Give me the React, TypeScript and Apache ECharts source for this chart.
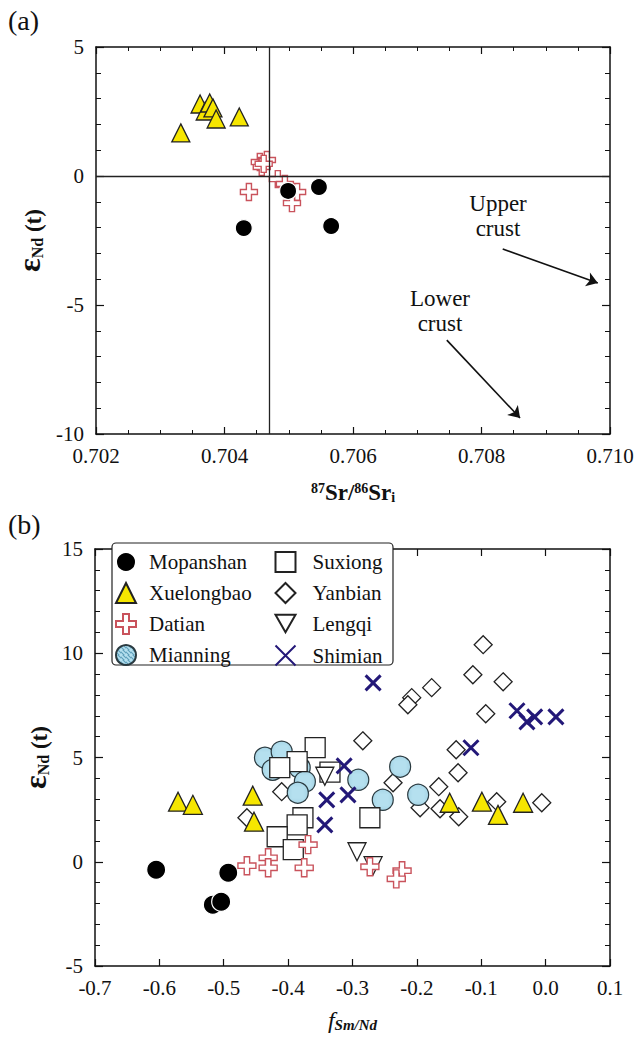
import React, { useEffect, useRef } from 'react';
import * as echarts from 'echarts';

const SERIF = "'Liberation Serif', 'DejaVu Serif', serif";

// ---------- Panel (a): 87Sr/86Sr_i vs eNd(t) ----------
const srRange = [0.702, 0.71];
const srInterval = 0.002;
const ndRangeA = [-10, 5];
const refSr = 0.7047;
const refNd = 0;

const aMopanshan = [
  [0.70499, -0.58], [0.70547, -0.43], [0.7043, -2.02], [0.70566, -1.94],
];
const aXuelongbao = [
  [0.70332, 1.67], [0.70362, 2.79], [0.7037, 2.52], [0.70377, 2.83],
  [0.70382, 2.64], [0.70387, 2.21], [0.70423, 2.29],
];
const aDatian = [
  [0.70455, 0.54], [0.70466, 0.62], [0.70458, 0.35], [0.70461, 0.47],
  [0.70483, -0.12], [0.70438, -0.62], [0.70513, -0.62], [0.70505, -1.05],
  [0.70494, -0.31],
];
const upperArrow = [[0.70833, -2.83], [0.70981, -4.15]];
const lowerArrow = [[0.70746, -6.36], [0.7086, -9.38]];

// ---------- Panel (b): fSm/Nd vs eNd(t) ----------
const fRange = [-0.7, 0.1];
const ndRangeB = [-5, 15];

const bMopanshan = [[-0.605, -0.38], [-0.493, -0.53], [-0.517, -2.06], [-0.504, -1.92]];
const bXuelongbao = [
  [-0.571, 2.88], [-0.548, 2.73], [-0.455, 3.17], [-0.453, 1.92],
  [-0.149, 2.83], [-0.099, 2.88], [-0.074, 2.25], [-0.035, 2.83],
];
const bDatian = [
  [-0.464, -0.19], [-0.431, 0.19], [-0.431, -0.29], [-0.375, -0.29],
  [-0.369, 0.82], [-0.273, -0.24], [-0.223, -0.43], [-0.232, -0.82],
];
const bMianning = [
  [-0.436, 4.99], [-0.41, 5.28], [-0.424, 4.41], [-0.382, 4.51], [-0.374, 3.84],
  [-0.385, 3.31], [-0.291, 3.93], [-0.226, 4.56], [-0.253, 2.97], [-0.198, 3.21],
];
const bSuxiong = [
  [-0.358, 5.47], [-0.386, 4.8], [-0.413, 4.51], [-0.377, 2.11], [-0.386, 1.77],
  [-0.417, 1.2], [-0.392, 0.58], [-0.273, 2.11], [-0.335, 4.3],
];
const bYanbian = [
  [-0.097, 10.41], [-0.113, 8.97], [-0.066, 8.63], [-0.177, 8.35], [-0.208, 7.87],
  [-0.214, 7.53], [-0.093, 7.1], [-0.284, 5.8], [-0.139, 5.37], [-0.136, 4.27],
  [-0.166, 3.6], [-0.237, 3.79], [-0.195, 2.59], [-0.164, 2.54], [-0.135, 2.16],
  [-0.076, 2.88], [-0.006, 2.83], [-0.41, 3.36], [-0.464, 2.11],
];
const bLengqi = [[-0.293, 0.48], [-0.268, -0.19], [-0.343, 4.1]];
const bShimian = [
  [-0.268, 8.58], [-0.313, 4.6], [-0.307, 3.21], [-0.34, 2.97], [-0.343, 1.77],
  [-0.0445, 7.24], [-0.029, 6.71], [-0.017, 6.95], [0.016, 6.95], [-0.116, 5.47],
];

const legendCol1 = ['Mopanshan', 'Xuelongbao', 'Datian', 'Mianning'];
const legendCol2 = ['Suxiong', 'Yanbian', 'Lengqi', 'Shimian'];

const PLUS = 'path://M3.5,0 H6.5 V3.5 H10 V6.5 H6.5 V10 H3.5 V6.5 H0 V3.5 H3.5 Z';
const CROSS = 'path://M0,0 L10,10 M10,0 L0,10';
const DOWN_TRI = 'path://M0,0 L10,0 L5,8.66 Z';

function makeHatch() {
  const c = document.createElement('canvas');
  c.width = 5; c.height = 5;
  const g = c.getContext('2d');
  if (g) {
    g.fillStyle = '#b5e0ef';
    g.fillRect(0, 0, 5, 5);
    g.strokeStyle = '#5f9fba';
    g.lineWidth = 1.2;
    g.beginPath();
    g.moveTo(-1, 1); g.lineTo(4, 6);
    g.moveTo(1, -1); g.lineTo(6, 4);
    g.stroke();
  }
  return { image: c.toDataURL(), repeat: 'repeat', imageWidth: 5, imageHeight: 5 };
}

function buildStyles(hatch: any): Record<string, any> {
  return {
    Mopanshan: { symbol: 'circle', itemStyle: { color: '#000', borderColor: '#fff', borderWidth: 1.2, opacity: 1 } },
    Xuelongbao: { symbol: 'triangle', itemStyle: { color: '#f6e600', borderColor: '#222', borderWidth: 1.3, opacity: 1 } },
    Datian: { symbol: PLUS, itemStyle: { color: '#fff', borderColor: '#c9535c', borderWidth: 1.4, opacity: 1 } },
    Mianning: { symbol: 'circle', itemStyle: { color: hatch, borderColor: '#2a3a40', borderWidth: 1.2, opacity: 1 } },
    Suxiong: { symbol: 'rect', itemStyle: { color: '#fff', borderColor: '#222', borderWidth: 1.3, opacity: 1 } },
    Yanbian: { symbol: 'diamond', itemStyle: { color: '#fff', borderColor: '#222', borderWidth: 1.3, opacity: 1 } },
    Lengqi: { symbol: DOWN_TRI, itemStyle: { color: '#fff', borderColor: '#222', borderWidth: 1.3, opacity: 1 } },
    Shimian: { symbol: CROSS, itemStyle: { color: 'none', borderColor: '#231878', borderWidth: 3, opacity: 1 } },
  };
}

const sizes: Record<string, number> = {
  Mopanshan: 19, Xuelongbao: 19, Datian: 18, Mianning: 21, Suxiong: 20,
  Yanbian: 18, Lengqi: 18, Shimian: 15,
};

const axisLine = { show: true, onZero: false, lineStyle: { color: '#111', width: 1.5 } };
const labelStyle = { fontFamily: SERIF, fontSize: 21, color: '#111' };

function xAx(gi: number, range: number[], interval: number, pos: string, labels: boolean, digits: number, minorSplit: number) {
  return {
    type: 'value', gridIndex: gi, min: range[0], max: range[1], interval, position: pos,
    axisLine, splitLine: { show: false },
    axisTick: { show: true, inside: true, length: 7, lineStyle: { color: '#111', width: 1.2 } },
    minorTick: { show: minorSplit > 1, splitNumber: minorSplit, length: 4, lineStyle: { color: '#111', width: 1 } },
    axisLabel: { show: labels, margin: 11, ...labelStyle, formatter: (v: number) => v.toFixed(digits) },
  };
}
function yAx(gi: number, range: number[], pos: string, labels: boolean) {
  return {
    type: 'value', gridIndex: gi, min: range[0], max: range[1], interval: 5, position: pos,
    axisLine, splitLine: { show: false },
    axisTick: { show: true, inside: true, length: 8, lineStyle: { color: '#111', width: 1.2 } },
    minorTick: { show: true, splitNumber: 5, length: 5, lineStyle: { color: '#111', width: 1 } },
    axisLabel: { show: labels, margin: 12, ...labelStyle, formatter: (v: number) => String(Math.round(v)) },
  };
}

const ndName = {
  name: '{e|ε}{s|Nd}{n| (t)}',
  nameLocation: 'middle', nameRotate: 90, nameGap: 16,
  nameTextStyle: {
    fontFamily: SERIF, color: '#111', fontWeight: 'bold',
    rich: {
      e: { fontFamily: SERIF, fontSize: 32, fontWeight: 'bold', color: '#111', verticalAlign: 'bottom' },
      s: { fontFamily: SERIF, fontSize: 16, fontWeight: 'bold', color: '#111', verticalAlign: 'bottom' },
      n: { fontFamily: SERIF, fontSize: 23, fontWeight: 'bold', color: '#111', verticalAlign: 'bottom' },
    },
  },
};

export default function App() {
  const ref = useRef<HTMLDivElement>(null);
  useEffect(() => {
    if (!ref.current) return;
    const chart = echarts.init(ref.current, null, { renderer: 'svg' });
    const styles = buildStyles(makeHatch());
    const sc = (name: string, data: number[][], xi: number, yi: number, z: number, size?: number) => ({
      type: 'scatter', name, data, xAxisIndex: xi, yAxisIndex: yi, z,
      symbolSize: size ?? sizes[name], ...styles[name],
    });
    const xA = xAx(0, srRange, srInterval, 'bottom', true, 3, 4);
    const xATop = xAx(0, srRange, srInterval, 'top', false, 3, 4);
    const xB = xAx(1, fRange, 0.1, 'bottom', true, 1, 1);
    const xBTop = xAx(1, fRange, 0.1, 'top', false, 1, 1);
    const legendBase = {
      orient: 'vertical', top: 551, padding: 0, itemGap: 9, itemWidth: 20, itemHeight: 20,
      selectedMode: false, z: 10,
    };
    const option: any = {
      animation: false,
      backgroundColor: '#fff',
      grid: [
        { left: 96, top: 47, width: 514, height: 387 },
        { left: 95, top: 549, width: 515, height: 417 },
      ],
      xAxis: [
        {
          ...xA,
          name: '{p|87}{b|Sr/}{p|86}{b|Sr}{i|i}', nameLocation: 'middle', nameGap: 47,
          nameTextStyle: {
            rich: {
              p: { fontFamily: SERIF, fontSize: 14, fontWeight: 'bold', color: '#111', verticalAlign: 'top' },
              b: { fontFamily: SERIF, fontSize: 23, fontWeight: 'bold', color: '#111', verticalAlign: 'middle' },
              i: { fontFamily: SERIF, fontSize: 14, fontWeight: 'bold', color: '#111', verticalAlign: 'bottom' },
            },
          },
        },
        xATop,
        {
          ...xB,
          name: '{f|f}{s|Sm/Nd}', nameLocation: 'middle', nameGap: 42,
          nameTextStyle: {
            rich: {
              f: { fontFamily: SERIF, fontSize: 24, fontStyle: 'italic', color: '#111', verticalAlign: 'middle' },
              s: { fontFamily: SERIF, fontSize: 15, fontStyle: 'italic', fontWeight: 'bold', color: '#111', verticalAlign: 'bottom' },
            },
          },
        },
        xBTop,
      ],
      yAxis: [
        { ...yAx(0, ndRangeA, 'left', true), ...ndName },
        yAx(0, ndRangeA, 'right', false),
        { ...yAx(1, ndRangeB, 'left', true), ...ndName },
        yAx(1, ndRangeB, 'right', false),
      ],
      legend: [
        {
          ...legendBase, data: legendCol1, left: 115,
          textStyle: { fontFamily: SERIF, fontSize: 21, color: '#111', padding: [0, 0, 0, 8] },
        },
        {
          ...legendBase, data: legendCol2, left: 273,
          textStyle: { fontFamily: SERIF, fontSize: 21, color: '#111', padding: [0, 0, 0, 12] },
        },
      ],
      graphic: [
        { type: 'text', left: 8, top: 6, style: { text: '(a)', font: `28px ${SERIF}`, fill: '#111' } },
        { type: 'text', left: 8, top: 510, style: { text: '(b)', font: `28px ${SERIF}`, fill: '#111' } },
        { type: 'text', x: 498, y: 216, style: { text: 'Upper\ncrust', font: `23px ${SERIF}`, fill: '#111', align: 'center', verticalAlign: 'middle', lineHeight: 25 }, z: 6 },
        { type: 'text', x: 440, y: 311, style: { text: 'Lower\ncrust', font: `23px ${SERIF}`, fill: '#111', align: 'center', verticalAlign: 'middle', lineHeight: 25 }, z: 6 },
        { type: 'rect', shape: { x: 112, y: 543, width: 281, height: 122, r: 4 }, style: { fill: '#fff', stroke: '#222', lineWidth: 1.2 }, z: 8 },
      ],
      series: [
        {
          type: 'scatter', name: 'refLines', data: [], xAxisIndex: 0, yAxisIndex: 0, z: 1,
          markLine: {
            silent: true, symbol: ['none', 'none'], label: { show: false },
            lineStyle: { color: '#222', width: 1.3, type: 'solid' },
            data: [
              [{ coord: [refSr, ndRangeA[0]] }, { coord: [refSr, ndRangeA[1]] }],
              [{ coord: [srRange[0], refNd] }, { coord: [srRange[1], refNd] }],
            ],
          },
        },
        {
          type: 'scatter', name: 'arrows', data: [], xAxisIndex: 0, yAxisIndex: 0, z: 1,
          markLine: {
            silent: true, symbol: ['none', 'arrow'], symbolSize: 11, label: { show: false },
            lineStyle: { color: '#111', width: 1.6, type: 'solid' },
            data: [
              [{ coord: upperArrow[0] }, { coord: upperArrow[1] }],
              [{ coord: lowerArrow[0] }, { coord: lowerArrow[1] }],
            ],
          },
        },
        sc('Xuelongbao', aXuelongbao, 0, 0, 3, 18),
        sc('Datian', aDatian, 0, 0, 4, 17),
        sc('Mopanshan', aMopanshan, 0, 0, 5, 17),
        sc('Yanbian', bYanbian, 2, 2, 2),
        sc('Mianning', bMianning, 2, 2, 3),
        sc('Suxiong', bSuxiong, 2, 2, 4),
        sc('Lengqi', bLengqi, 2, 2, 4),
        sc('Mopanshan', bMopanshan, 2, 2, 5),
        sc('Datian', bDatian, 2, 2, 5),
        sc('Xuelongbao', bXuelongbao, 2, 2, 6),
        sc('Shimian', bShimian, 2, 2, 7),
      ],
    };
    chart.setOption(option);
    return () => chart.dispose();
  }, []);
  return <div ref={ref} style={{ position: 'absolute', left: 0, top: 0, width: 638, height: 1042 }} />;
}
